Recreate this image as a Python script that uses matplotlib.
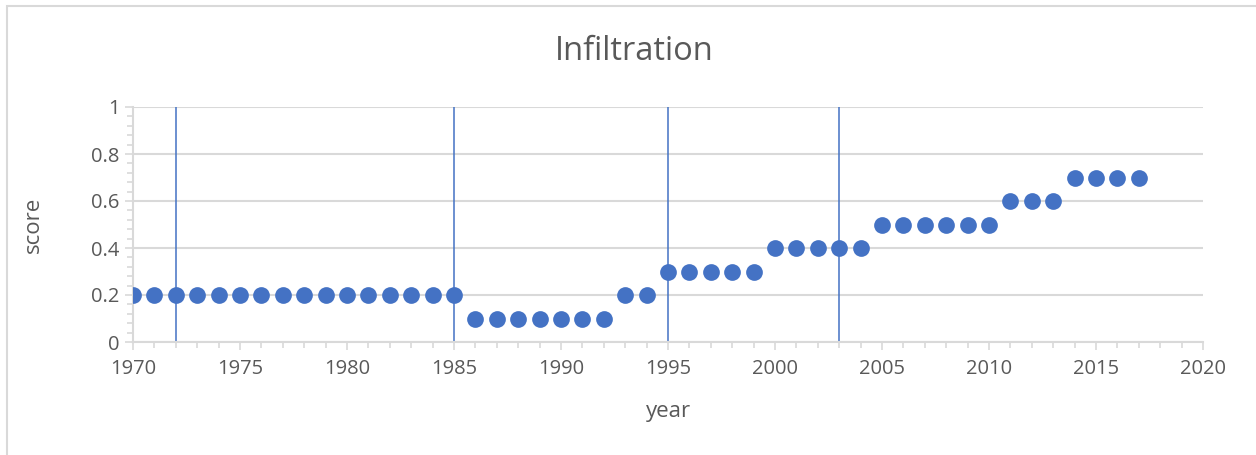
import matplotlib.pyplot as plt
from matplotlib.ticker import MultipleLocator
from matplotlib.patches import Rectangle

# data
years = list(range(1970, 2018))
scores = ([0.2] * 16 + [0.1] * 7 + [0.2] * 2 + [0.3] * 5 + [0.4] * 5
          + [0.5] * 6 + [0.6] * 3 + [0.7] * 4)
marker_years = [1972, 1985, 1995, 2003]

blue = "#4472C4"
grey_txt = "#595959"
grid_col = "#D9D9D9"

plt.rcParams["font.family"] = ["Open Sans", "DejaVu Sans"]

fig = plt.figure(figsize=(12.56, 4.55), dpi=100)
ax = fig.add_axes([133 / 1256, 1 - 342 / 455, (1203 - 133) / 1256, (342 - 107) / 455])

# chart border (cropped on right and bottom)
fig.patches.append(Rectangle((7 / 1256, -0.1), 1.2, 1 - 6 / 455 + 0.1,
                             transform=fig.transFigure, fill=False,
                             edgecolor="#D9D9D9", linewidth=1.5))

ax.vlines(marker_years, 0, 1, color=blue, linewidth=1.1, zorder=2)
ax.scatter(years, scores, s=145, color=blue, zorder=3, linewidths=0)

ax.set_xlim(1970, 2020)
ax.set_ylim(0, 1)
ax.xaxis.set_major_locator(MultipleLocator(5))
ax.xaxis.set_minor_locator(MultipleLocator(1))
ax.yaxis.set_major_locator(MultipleLocator(0.2))
ax.yaxis.set_minor_locator(MultipleLocator(0.04))
ax.set_yticks([0, 0.2, 0.4, 0.6, 0.8, 1.0])
ax.set_yticklabels(["0", "0.2", "0.4", "0.6", "0.8", "1"])

ax.grid(axis="y", color=grid_col, linewidth=1.5, zorder=0)
ax.set_axisbelow(True)
for side in ["top", "right"]:
    ax.spines[side].set_visible(False)
for side in ["left", "bottom"]:
    ax.spines[side].set_color(grid_col)
    ax.spines[side].set_linewidth(1.5)

ax.tick_params(which="both", colors=grid_col, labelcolor=grey_txt, labelsize=14.5, width=1.2)
ax.tick_params(which="major", length=6)
ax.tick_params(which="minor", length=4)
ax.tick_params(axis="x", pad=6)

fig.text(0.505, 1 - 51 / 455, "Infiltration", ha="center", va="center",
         fontsize=23.5, color=grey_txt)
ax.set_xlabel("year", fontsize=16, color=grey_txt, labelpad=16)
ax.set_ylabel("score", fontsize=16, color=grey_txt, labelpad=34)

fig.savefig("out.png", dpi=100)
